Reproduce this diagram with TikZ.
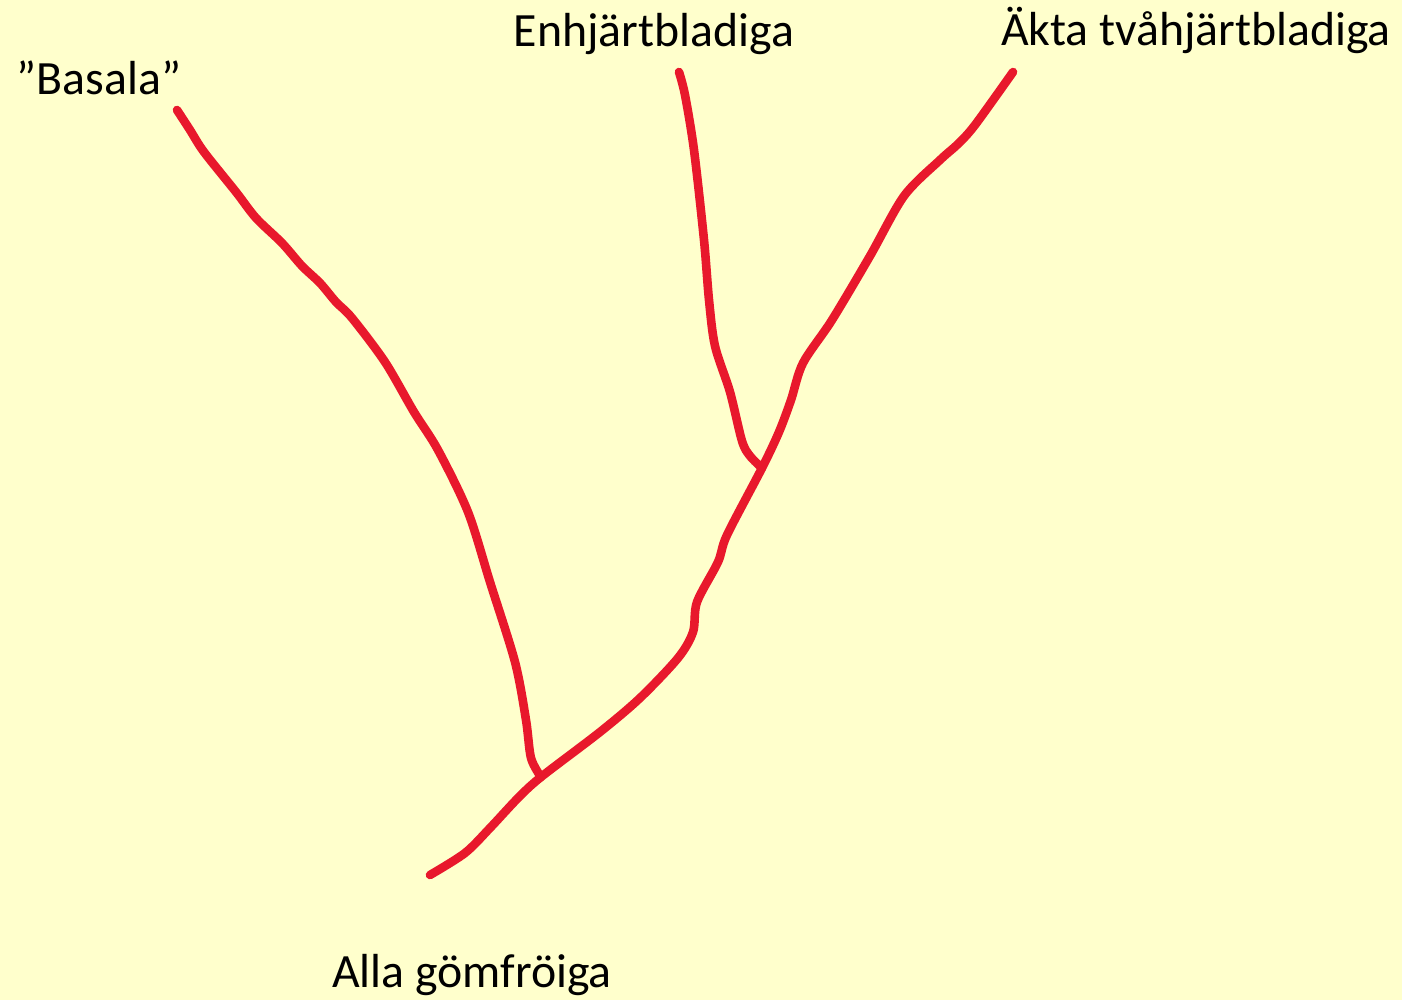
\documentclass[tikz,border=0pt]{standalone}
\usepackage{fontspec}
\setmainfont{Carlito}
\definecolor{bgyellow}{RGB}{255,255,204}
\definecolor{treered}{RGB}{232,24,44}
\usetikzlibrary{positioning}

\begin{document}
\begin{tikzpicture}[x=0.02cm, y=-0.02cm,
    branch/.style={draw=treered, line width=4.9pt, line cap=round, line join=round},
    taxon/.style={anchor=base, inner sep=0pt, font=\fontsize{27.2}{32}\selectfont}
  ]
    % Background
    \fill[bgyellow] (0,0) rectangle (1402,1000);
    \useasboundingbox (0,0) rectangle (1402,1000);

    % Junctions and tips
    \coordinate (root) at (430,875);
    \coordinate (split1) at (541,777);
    \coordinate (split2) at (762,468);
    \coordinate (tipbas) at (177,110);
    \coordinate (tipmono) at (679,72);
    \coordinate (tipeud) at (1013,72);

    % Trunk towards the eudicots
    \draw[branch] plot[smooth, tension=0.5] coordinates {
      (root) (465,853) (490,828) (518,798) (split1) (600,732) (640,698)
      (678,658) (693,632) (697,602) (718,562) (727,535) (split2) (779,432)
      (791,400) (803,363) (832,320) (870,256) (904,196) (940,160)
      (958,144) (975,125) (tipeud)};

    % Basal branch
    \draw[branch] plot[smooth, tension=0.5] coordinates {
      (split1) (531,758) (526,720) (515,662) (490,582) (468,512)
      (438,450) (414,412) (385,362) (352,318) (336,302) (320,283)
      (302,266) (282,243) (256,218) (236,192) (204,152) (190,130) (tipbas)};

    % Monocot branch
    \draw[branch] plot[smooth, tension=0.5] coordinates {
      (split2) (750,456) (742,441) (730,392) (715,346) (709,300)
      (704,240) (694,150) (685,95) (tipmono)};

    % Labels
    \node[taxon] (basala) at (99,95) {”Basala”};
    \node[taxon] (mono) at (654,47) {Enhjärtbladiga};
    \node[taxon] (eudi) at (1196,46) {Äkta tvåhjärtbladiga};
    \node[taxon] (alla) at (472,987) {Alla gömfröiga};
\end{tikzpicture}
\end{document}
